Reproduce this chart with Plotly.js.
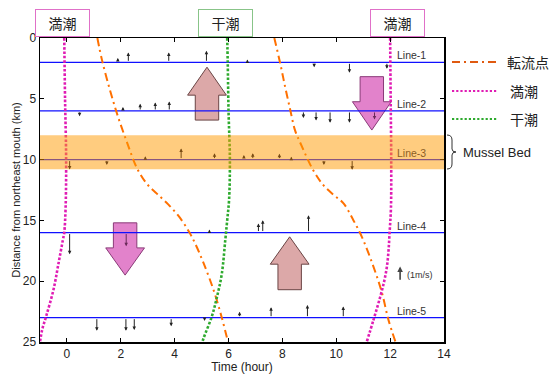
<!DOCTYPE html>
<html><head><meta charset="utf-8">
<script src="https://cdn.plot.ly/plotly-3.0.1.min.js"></script>
<style>html,body{margin:0;padding:0;background:#fff}</style>
</head><body><div id="chart" style="width:552px;height:374px"></div>
<script>
// ---------- data ----------
const lineKm = [2, 6, 10, 16, 23];
const lineNames = ['Line-1', 'Line-2', 'Line-3', 'Line-4', 'Line-5'];
// current vectors: time (hour) and velocity (m/s, + = toward mouth)
const l1T = [0.49, 1.89, 2.28, 3.78, 5.18, 6.70, 9.18, 10.49, 11.88];
const l1V = [-0.15, 0.30, 0.67, 0.67, 0.78, 0.20, -0.33, -0.71, -0.44];
const l2T = [0.47, 1.34, 2.08, 2.72, 3.28, 3.80, 8.78, 9.25, 9.77, 10.49, 11.42];
const l2V = [-0.36, -0.15, 0.27, 0.49, 0.58, 0.64, -0.47, -0.64, -0.80, -0.80, -0.58];
const l3T = [0.10, 1.48, 2.91, 4.24, 5.48, 6.57, 6.90, 7.89, 8.33, 9.54, 10.59];
const l3V = [-0.67, -0.36, 0.22, 0.76, 0.44, 0.31, 0.44, 0.40, 0.20, -0.36, -0.69];
const l4T = [0.10, 2.20, 3.92, 5.29, 7.11, 7.27, 8.97, 10.62];
const l4V = [-1.47, -0.93, -0.15, 0.20, 0.62, 0.84, 1.18, -0.12];
const l5T = [1.11, 2.19, 2.50, 3.87, 5.11, 6.41, 7.58, 8.93, 10.26];
const l5V = [-0.89, -0.89, -0.84, -0.58, -0.22, 0.40, 0.71, 0.87, 0.76];
const scaleT = 12.37, scaleKm = 20, scaleV = 1;

// turning point (転流点) curves
const tp1T = [1.13, 1.30, 1.60, 1.90, 2.25, 2.60, 2.97, 3.34, 3.77, 4.20, 4.55, 4.76, 5.07, 5.44, 5.75, 5.98];
const tp1D = [0, 1.8, 4.3, 6.5, 8.7, 10.7, 12.0, 12.8, 13.7, 14.8, 16.0, 16.9, 18.5, 20.7, 23.0, 25];
const tp2T = [7.70, 7.92, 8.10, 8.29, 8.47, 8.70, 9.15, 9.52, 9.90, 10.27, 10.64, 10.95, 11.38, 11.69, 11.94, 12.20];
const tp2D = [0, 2.1, 4.0, 5.9, 7.6, 8.8, 10.9, 12.1, 12.9, 13.6, 15.0, 16.35, 18.8, 20.9, 23.2, 25];
// high water (満潮)
const hw1T = [-0.10, -0.07, -0.03, -0.05, -0.10, -0.15, -0.31, -0.50, -0.76, -0.92, -1.00];
const hw1D = [0, 5, 10, 14, 16, 16.6, 18.5, 20.7, 22.8, 24.0, 25];
const hw2T = [12.00, 12.02, 12.04, 12.03, 11.98, 11.94, 11.88, 11.78, 11.63, 11.38, 11.13];
const hw2D = [0, 5, 10, 14, 16, 17.5, 18.8, 20, 21.3, 23.2, 25];
// low water (干潮)
const lwT = [5.95, 5.97, 6.00, 6.05, 6.02, 5.95, 5.88, 5.75, 5.57, 5.38, 5.07, 5.03];
const lwD = [0, 2, 6, 10, 13.3, 15, 16.6, 19.4, 21.3, 22.9, 24.7, 25];

// mussel bed band
const bedFrom = 8, bedTo = 10.8;

// big arrows: centre time, tip km, neck km, tail km
const bigX = [5.20, 11.32, 2.16, 8.27];
const bigTip = [2.4, 7.57, 19.5, 16.35];
const bigNeck = [4.7, 5.24, 17.26, 18.6];
const bigTail = [6.75, 3.18, 15.2, 20.7];
const bigFill = ['#dca8a8', '#e282cb', '#e282cb', '#dca8a8'];

// ---------- style ----------
const FONT = 'Liberation Sans, Arial, sans-serif';
const CJK = 'Noto Sans CJK JP, sans-serif';
const C_ORANGE = '#ff7000', C_MAG = '#e01cb4', C_GREEN = '#2eaa2e', C_BLUE = '#1010ff';
const KM_PER_MS = 1.21;

const traces = [];
// profile lines
lineKm.forEach(k => traces.push({x: [-1, 14], y: [k, k], mode: 'lines', line: {color: C_BLUE, width: 1.3}, hoverinfo: 'skip', showlegend: false}));
traces.push({x: tp1T, y: tp1D, mode: 'lines', line: {color: C_ORANGE, width: 2, dash: '8px,4px,2px,4px', shape: 'spline'}, showlegend: false});
traces.push({x: tp2T, y: tp2D, mode: 'lines', line: {color: C_ORANGE, width: 2, dash: '8px,4px,2px,4px', shape: 'spline'}, showlegend: false});
traces.push({x: hw1T, y: hw1D, mode: 'lines', line: {color: C_MAG, width: 2.6, dash: '2.6px,1.8px', shape: 'spline'}, showlegend: false});
traces.push({x: hw2T, y: hw2D, mode: 'lines', line: {color: C_MAG, width: 2.6, dash: '2.6px,1.8px', shape: 'spline'}, showlegend: false});
traces.push({x: lwT, y: lwD, mode: 'lines', line: {color: C_GREEN, width: 2.6, dash: '2.6px,1.8px', shape: 'spline'}, showlegend: false});

// shapes
const shapes = [];
bigX.forEach((cx, i) => {
  const hh = 0.72, sh = 0.435;
  const p = `M${cx},${bigTip[i]} L${cx + hh},${bigNeck[i]} L${cx + sh},${bigNeck[i]} L${cx + sh},${bigTail[i]} L${cx - sh},${bigTail[i]} L${cx - sh},${bigNeck[i]} L${cx - hh},${bigNeck[i]} Z`;
  shapes.push({type: 'path', xref: 'x', yref: 'y', path: p, fillcolor: bigFill[i], line: {color: i % 3 === 0 ? '#6a4444' : '#8a3a78', width: 1}, layer: 'below'});
});
shapes.push({type: 'rect', xref: 'x', yref: 'y', x0: -1, x1: 14, y0: bedFrom, y1: bedTo, fillcolor: 'rgba(255,153,0,0.5)', line: {width: 0}, layer: 'above'});

// paper helpers (pixel -> paper) for out-of-plot decorations
const L = 40, T = 38, W = 404, H = 304;
const px = v => (v - L) / W, py = v => 1 - (v - T) / H;
// legend samples
shapes.push({type: 'line', xref: 'paper', yref: 'paper', x0: px(452), x1: px(497), y0: py(62), y1: py(62), line: {color: '#e05a10', width: 2, dash: '8px,4px,2px,4px'}});
shapes.push({type: 'line', xref: 'paper', yref: 'paper', x0: px(452), x1: px(497), y0: py(91), y1: py(91), line: {color: C_MAG, width: 2.2, dash: '2.2px,2px'}});
shapes.push({type: 'line', xref: 'paper', yref: 'paper', x0: px(452), x1: px(497), y0: py(119), y1: py(119), line: {color: C_GREEN, width: 2.2, dash: '2.2px,2px'}});
// brace
const bp = [[447,135],[452,135],[452,140],[452,149],[452,152],[456,152],[452,152],[452,155],[452,164],[452,169],[447,169]];
const b = bp.map(q => `${px(q[0])},${py(q[1])}`);
shapes.push({type: 'path', xref: 'paper', yref: 'paper',
  path: `M${b[0]} Q${b[1]} ${b[2]} L${b[3]} Q${b[4]} ${b[5]} Q${b[6]} ${b[7]} L${b[8]} Q${b[9]} ${b[10]}`,
  line: {color: '#333', width: 1}});

// annotations
const ann = [];
const vecSets = [[l1T, l1V, 0], [l2T, l2V, 1], [l3T, l3V, 2], [l4T, l4V, 3], [l5T, l5V, 4]];
vecSets.forEach(([ts, vs, li]) => {
  ts.forEach((t, j) => {
    const k = lineKm[li];
    let col = li === 2 ? '#7a4c14' : '#222';
    if ((li === 1 && j === 10) || (li === 3 && j === 1)) col = '#6a2a5a';
    ann.push({x: t, y: k - vs[j] * KM_PER_MS, ax: t, ay: k, xref: 'x', yref: 'y', axref: 'x', ayref: 'y',
      text: '', showarrow: true, arrowhead: 2, arrowsize: 0.7, arrowwidth: 1, arrowcolor: col, standoff: 0, startstandoff: 0});
  });
});
ann.push({x: scaleT, y: scaleKm - scaleV * KM_PER_MS, ax: scaleT, ay: scaleKm, xref: 'x', yref: 'y', axref: 'x', ayref: 'y',
  text: '', showarrow: true, arrowhead: 2, arrowsize: 0.7, arrowwidth: 1.6, arrowcolor: '#444', standoff: 0});
ann.push({x: scaleT + 0.2, y: scaleKm - 0.55, xref: 'x', yref: 'y', text: '(1m/s)', showarrow: false, xanchor: 'left', yanchor: 'middle', font: {family: FONT, size: 9, color: '#333'}});
lineKm.forEach((k, i) => ann.push({x: 12.19, y: k, xref: 'x', yref: 'y', text: lineNames[i], showarrow: false, xanchor: 'left', yanchor: 'bottom', yshift: -1,
  font: {family: FONT, size: 10.5, color: i === 2 ? '#8c5e24' : '#333'}}));
// top tide labels
const boxes = [['満潮', -0.17, '#e070c8'], ['干潮', 5.89, '#88c488'], ['満潮', 12.27, '#e070c8']];
boxes.forEach(bx => ann.push({x: bx[1], y: py(23.5), xref: 'x', yref: 'paper', text: bx[0], showarrow: false,
  xanchor: 'center', yanchor: 'middle', width: 51, height: 24, borderpad: 1, bordercolor: bx[2], borderwidth: 1, bgcolor: '#fff',
  font: {family: CJK, size: 14, color: '#222'}}));
// legend text
[['転流点', 62], ['満潮', 91], ['干潮', 119]].forEach((q, i) => ann.push({x: px(i === 0 ? 505 : 508), y: py(q[1]), xref: 'paper', yref: 'paper',
  text: q[0], showarrow: false, xanchor: 'left', yanchor: 'middle', font: {family: CJK, size: 14, color: '#222'}}));
ann.push({x: px(461), y: py(152), xref: 'paper', yref: 'paper', text: 'Mussel Bed', showarrow: false, xanchor: 'left', yanchor: 'middle',
  font: {family: FONT, size: 13, color: '#222'}});

const layout = {
  width: 552, height: 374,
  margin: {l: L, r: 552 - L - W, t: T, b: 374 - T - H},
  paper_bgcolor: '#fff', plot_bgcolor: '#fff',
  showlegend: false,
  xaxis: {range: [-1, 14], tickvals: [0, 2, 4, 6, 8, 10, 12, 14], ticks: 'inside', ticklen: 4, tickcolor: '#000',
    showline: true, linecolor: '#000', linewidth: 1.5, mirror: 'ticks', showgrid: false, zeroline: false,
    tickfont: {family: FONT, size: 12, color: '#222'},
    title: {text: 'Time (hour)', font: {family: FONT, size: 12, color: '#222'}, standoff: 4}},
  yaxis: {range: [25, 0], tickvals: [0, 5, 10, 15, 20, 25], ticks: 'inside', ticklen: 4, tickcolor: '#000',
    showline: true, linecolor: '#000', linewidth: 1.5, mirror: 'ticks', showgrid: false, zeroline: false,
    tickfont: {family: FONT, size: 12, color: '#222'},
    title: {text: 'Distance from northeast mouth (km)', font: {family: FONT, size: 11, color: '#222'}, standoff: 0}},
  shapes: shapes, annotations: ann
};
Plotly.newPlot('chart', traces, layout, {staticPlot: true, displayModeBar: false});
</script></body></html>
